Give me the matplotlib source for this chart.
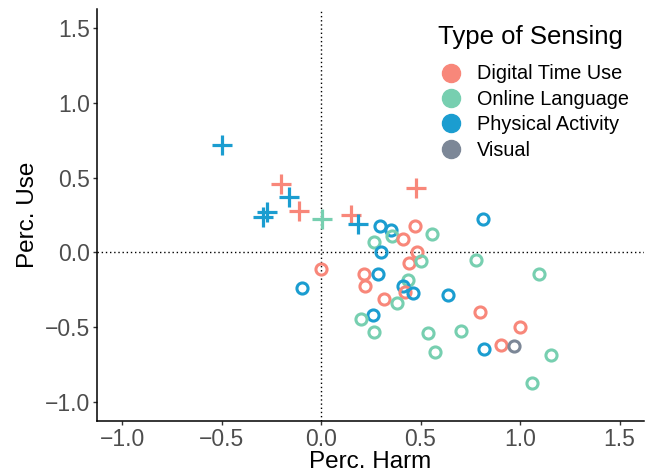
import matplotlib.pyplot as plt
from matplotlib.lines import Line2D

plt.rcParams['font.family'] = ['Liberation Sans', 'DejaVu Sans']

# cruzes (estudos sem ponto individual)
cruz_harm = [-0.497, -0.201, -0.161, -0.111, -0.291, -0.271, 0.005, 0.151, 0.186, 0.477]
cruz_use = [0.717, 0.457, 0.370, 0.277, 0.237, 0.270, 0.223, 0.250, 0.190, 0.430]
cruz_tipo = ["Physical Activity", "Digital Time Use", "Physical Activity", "Digital Time Use",
             "Physical Activity", "Physical Activity", "Online Language", "Digital Time Use",
             "Physical Activity", "Digital Time Use"]

# circulos
circ_harm = [0.296, 0.352, 0.357, 0.472, 0.412, 0.558, 0.266, 0.302, 0.482, 0.442,
             0.503, 0.779, 1.095, 0.216, 0.286, 0.221, 0.437, 0.412, 0.422, 0.462,
             0.317, 0.382, 0.638, 0.261, 0.201, 0.266, 0.799, 0.538, 0.704, 1.000,
             0.573, 0.819, 0.905, 0.970, 1.156, 1.060, 0.814, 0.000, -0.095]
circ_use = [0.176, 0.150, 0.110, 0.176, 0.089, 0.123, 0.070, 0.003, 0.003, -0.071,
            -0.057, -0.051, -0.144, -0.144, -0.144, -0.224, -0.184, -0.224, -0.265, -0.271,
            -0.311, -0.338, -0.285, -0.418, -0.445, -0.532, -0.398, -0.539, -0.525, -0.498,
            -0.665, -0.646, -0.619, -0.626, -0.685, -0.872, 0.223, -0.111, -0.238]
circ_tipo = ["Physical Activity", "Physical Activity", "Online Language", "Digital Time Use",
             "Digital Time Use", "Online Language", "Online Language", "Physical Activity",
             "Digital Time Use", "Digital Time Use", "Online Language", "Online Language",
             "Online Language", "Digital Time Use", "Physical Activity", "Digital Time Use",
             "Online Language", "Physical Activity", "Digital Time Use", "Physical Activity",
             "Digital Time Use", "Online Language", "Physical Activity", "Physical Activity",
             "Online Language", "Online Language", "Digital Time Use", "Online Language",
             "Online Language", "Digital Time Use", "Online Language", "Physical Activity",
             "Digital Time Use", "Visual", "Online Language", "Online Language",
             "Physical Activity", "Digital Time Use", "Physical Activity"]

tipos = ["Digital Time Use", "Online Language", "Physical Activity", "Visual"]
cores = {"Digital Time Use": "#F8877A", "Online Language": "#77CFB0",
         "Physical Activity": "#1B9DD0", "Visual": "#7C8797"}

fig = plt.figure(figsize=(6.51, 4.75), dpi=100)
ax = fig.add_axes([97 / 651, 54 / 475, 547 / 651, 412 / 475])

# linhas pontilhadas no zero
ax.axhline(0, color="black", linestyle=(0, (1, 2)), linewidth=1, zorder=1)
ax.axvline(0, color="black", linestyle=(0, (1, 2)), linewidth=1, zorder=1)

for x, y, t in zip(cruz_harm, cruz_use, cruz_tipo):
    ax.plot(x, y, marker="+", markersize=14.5, markeredgewidth=2.3, color=cores[t], linestyle="none", zorder=3)

for x, y, t in zip(circ_harm, circ_use, circ_tipo):
    ax.plot(x, y, marker="o", markersize=8, markeredgewidth=2.2, markerfacecolor="none",
            markeredgecolor=cores[t], linestyle="none", zorder=3)

ax.set_xlim(-1.126, 1.623)
ax.set_ylim(-1.127, 1.627)
ax.set_xticks([-1.0, -0.5, 0.0, 0.5, 1.0, 1.5])
ax.set_yticks([-1.0, -0.5, 0.0, 0.5, 1.0, 1.5])
ax.set_xticklabels(["\u22121.0", "\u22120.5", "0.0", "0.5", "1.0", "1.5"])
ax.set_yticklabels(["\u22121.0", "\u22120.5", "0.0", "0.5", "1.0", "1.5"])
ax.tick_params(labelsize=16.5, labelcolor="#4D4D4D", color="#333333", length=3, width=1, pad=2)

ax.spines["top"].set_visible(False)
ax.spines["right"].set_visible(False)
ax.spines["left"].set_linewidth(1.1)
ax.spines["bottom"].set_linewidth(1.1)

ax.set_xlabel("Perc. Harm", fontsize=17.5, labelpad=0)
ax.set_ylabel("Perc. Use", fontsize=17.5, labelpad=4)

# legenda: titulo separado
fig.text(438 / 651, 1 - 37 / 475, "Type of Sensing", fontsize=18.5, va="center", ha="left")
handles = [Line2D([], [], marker="o", linestyle="none", markersize=13, color=cores[t]) for t in tipos]
leg = fig.legend(handles, tipos, loc="upper left", bbox_to_anchor=(441 / 651, 1 - 64.5 / 475),
                 bbox_transform=fig.transFigure, fontsize=14.3, frameon=False,
                 handlelength=1.0, handletextpad=0.8, labelspacing=0.32,
                 borderpad=0, borderaxespad=0)

fig.savefig("out.png", dpi=100)
